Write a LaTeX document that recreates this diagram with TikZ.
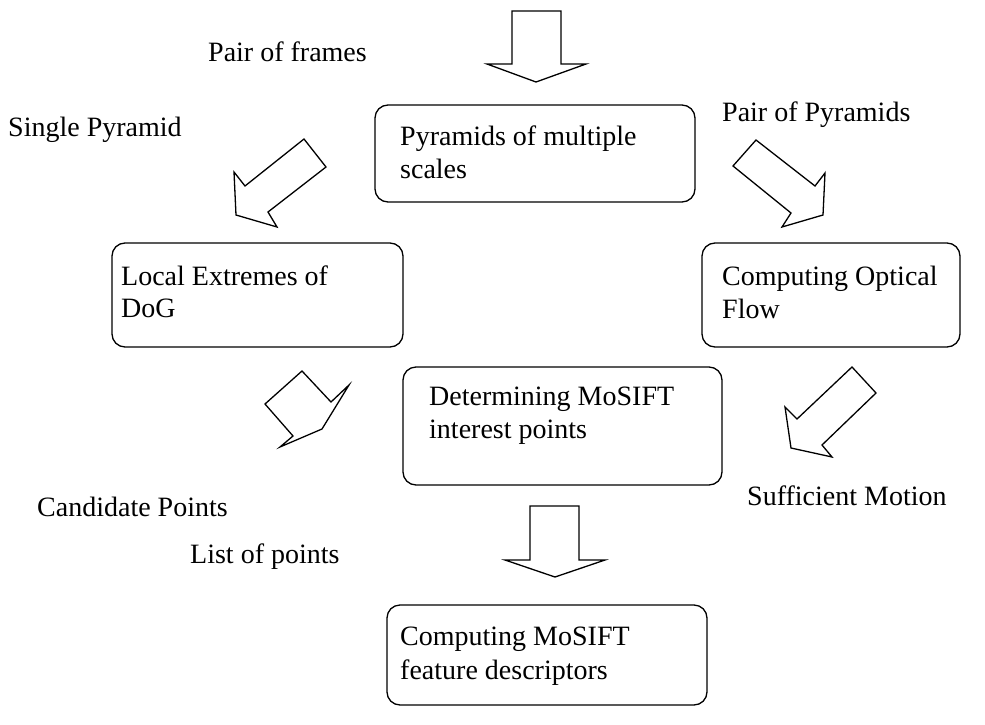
\documentclass[tikz,border=0pt]{standalone}
\usepackage{fontspec}
\setmainfont{Liberation Serif}
\begin{document}
\begin{tikzpicture}[x=1pt,y=-1pt,
  box/.style={draw, line width=1.3pt, rounded corners=13pt, inner sep=0pt},
  blk/.style={draw, line width=1.3pt, line join=miter, fill=white},
  lbl/.style={anchor=base west, inner sep=0pt, font=\fontsize{28}{33}\selectfont}]
\useasboundingbox (0,0) rectangle (985,725);
% boxes
\node[box, minimum width=320pt, minimum height=97pt] (pyr) at (535,153.5) {};
\node[box, minimum width=291pt, minimum height=104pt] (loc) at (257.5,295) {};
\node[box, minimum width=258pt, minimum height=104pt] (opt) at (831,295) {};
\node[box, minimum width=319pt, minimum height=118pt] (det) at (562.5,426) {};
\node[box, minimum width=320pt, minimum height=100pt] (com) at (547,655) {};
% box texts
\node[lbl] (pyrA) at (400,145) {Pyramids of multiple};
\node[lbl] (pyrB) at (400,178) {scales};
\node[lbl] (locA) at (121,285) {Local Extremes of};
\node[lbl] (locB) at (121,317) {DoG};
\node[lbl] (optA) at (722,285) {Computing Optical};
\node[lbl] (optB) at (722,318) {Flow};
\node[lbl] (detA) at (429,405) {Determining MoSIFT};
\node[lbl] (detB) at (429,438) {interest points};
\node[lbl] (comA) at (400,645) {Computing MoSIFT};
\node[lbl] (comB) at (400,679) {feature descriptors};
% free labels
\node[lbl] (l1) at (208,62) {Pair of frames};
\node[lbl] (l2) at (8,136) {Single Pyramid};
\node[lbl] (l3) at (722,121) {Pair of Pyramids};
\node[lbl] (l4) at (37,516) {Candidate Points};
\node[lbl] (l5) at (747,505) {Sufficient Motion};
\node[lbl] (l6) at (190,563) {List of points};
% block arrows
\draw[blk] (512,11) -- (561,11) -- (561,64) -- (586,64) -- (536,82) -- (487,64) -- (512,64) -- cycle;
\draw[blk] (530,506) -- (579,506) -- (579,560) -- (605,560) -- (555,577) -- (505,560) -- (530,560) -- cycle;
\draw[blk] (304,139) -- (326,167) -- (268,212) -- (277,227) -- (236,215) -- (234,172) -- (245,186) -- cycle;
\draw[blk] (756,140) -- (733,166) -- (791,213) -- (782,227) -- (823,215) -- (825,173) -- (815,186) -- cycle;
\draw[blk] (302,371) -- (265,404) -- (293,436) -- (280,447) -- (322,429) -- (349,385) -- (331,402) -- cycle;
\draw[blk] (852,367) -- (876,393) -- (822,445) -- (832,457) -- (791,448) -- (785,407) -- (797,419) -- cycle;
\end{tikzpicture}
\end{document}
